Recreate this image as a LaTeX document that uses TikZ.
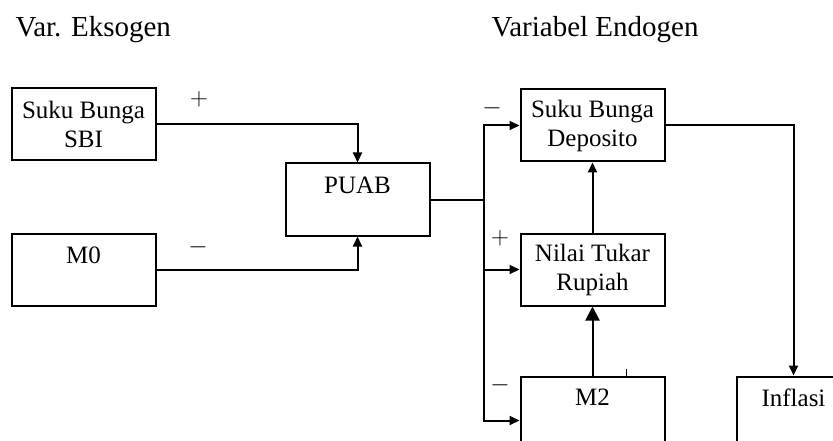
\documentclass[tikz,border=0pt]{standalone}
\usepackage{fontspec}
\setmainfont{Liberation Serif}
\usepackage{tikz}
\usetikzlibrary{arrows.meta,positioning}

\begin{document}
\begin{tikzpicture}[
    x=1pt, y=1pt,
    box/.style={rectangle, draw, line width=2pt, minimum width=144pt, minimum height=72pt, align=center, font=\fontsize{25}{29}\selectfont},
    title/.style={anchor=base west, font=\fontsize{29}{34}\selectfont},
    sign/.style={font=\fontsize{25}{29}\selectfont},
    line/.style={line width=2pt},
    arrow/.style={line width=2pt, -{Triangle[length=10pt,width=9pt]}},
    bigarrow/.style={line width=2pt, -{Triangle[length=14pt,width=14pt]}}
]
\clip (0,0) rectangle (833,440);

% Headings
\node[title] (exo) at (12,403) {Var. Eksogen};
\node[title] (endo) at (488,403) {Variabel Endogen};

% Exogenous variables
\node[box] (sbi) at (83.5,315.5) {Suku Bunga\\SBI};
\node[box, below=71pt of sbi] (m0) {M0\\\mbox{}};
\node[box, below right=1pt and 128pt of sbi] (puab) {PUAB\\\mbox{}};

% Endogenous variables
\node[box, above right=0pt and 89pt of puab] (deposito) {Suku Bunga\\Deposito};
\node[box, below=70pt of deposito] (nilai) {Nilai Tukar\\Rupiah};
\node[box, below=69pt of nilai, minimum height=88pt] (m2) {M2\\[-12pt]\mbox{}\\\mbox{}};
\node[box, right=70pt of m2, minimum width=114pt, minimum height=88pt] (inflasi) {Inflasi\\[-12pt]\mbox{}\\\mbox{}};

\coordinate[right=53pt of puab] (bus);

% Signs
\node[sign] (s1) at (199,341) {$+$};
\node[sign] (s2) at (198,193) {$-$};
\node[sign] (s3) at (492,332) {$-$};
\node[sign] (s4) at (500,202) {$+$};
\node[sign] (s5) at (500,55) {$-$};

% Arrows
\draw[arrow] (sbi) -| (puab);
\draw[arrow] (m0) -| (puab);
\draw[line] (puab) -- (bus);
\draw[arrow] (bus) |- (deposito);
\draw[arrow] (bus) |- (nilai);
\draw[arrow] (bus) |- (m2);
\draw[arrow] (nilai) -- (deposito);
\draw[bigarrow] (m2) -- (nilai);
\draw[arrow] (deposito) -| (inflasi);
\draw[line width=0.8pt] ([xshift=34pt]m2.north) -- ++(0,7);

\end{tikzpicture}
\end{document}
